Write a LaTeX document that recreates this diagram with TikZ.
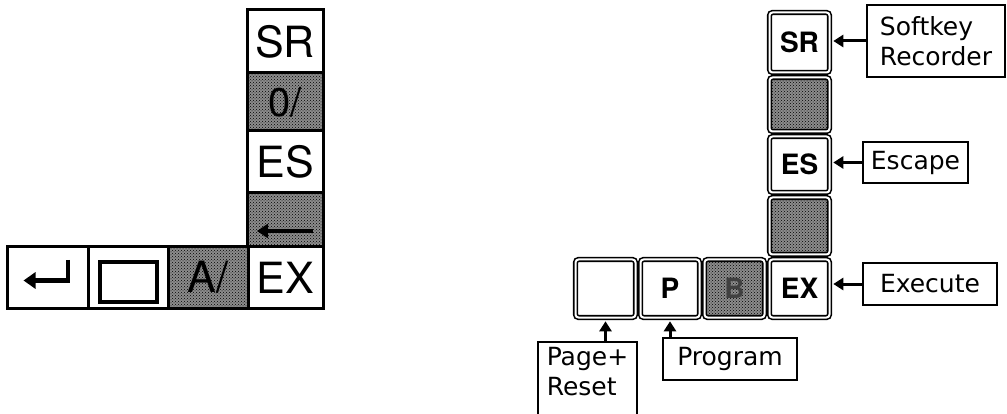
\documentclass[tikz,border=0pt]{standalone}
\usepackage{fontspec}
\newfontfamily\heros{TeX Gyre Heros}
\newfontfamily\dejavu{DejaVu Sans}
\usetikzlibrary{arrows.meta,patterns,calc}
\begin{document}
\begin{tikzpicture}[x=1pt,y=-1pt,
  lkey/.style={draw, line width=3pt, fill=white, inner sep=0pt,
    font=\heros\fontsize{43}{43}\selectfont},
  lshade/.style={preaction={fill=black!45},
    pattern=crosshatch dots, pattern color=black},
  rkey/.style={draw, line width=1.6pt, double, double distance=2pt,
    rounded corners=3pt, fill=white, inner sep=0pt,
    font=\heros\bfseries\fontsize{28}{28}\selectfont},
  rshade/.style={preaction={fill=black!45},
    pattern=crosshatch dots, pattern color=black},
  cbox/.style={draw, line width=1.8pt, inner sep=3pt,
    font=\dejavu\fontsize{25}{30}\selectfont},
  arr/.style={line width=3pt, -{Triangle[length=10pt,width=12pt]}},
  glyph/.style={line width=4pt}]
\clip (0,0) rectangle (1007,414);
\fill[white] (0,0) rectangle (1007,414);

% ---- left keypad ----
\node[lkey, minimum width=76, minimum height=63] (lsr) at (285,41.5) {SR};
\node[lkey, lshade, minimum width=76, minimum height=58] (ls1) at (285,102)
  {\fontsize{40}{40}\selectfont 0/};
\node[lkey, minimum width=76, minimum height=62] (les) at (285,162) {ES};
\node[lkey, lshade, minimum width=76, minimum height=54] (ls2) at (285,220) {};
\node[lkey, minimum width=76, minimum height=61] (lex) at (285,277.5) {EX};
\node[lkey, lshade, minimum width=80, minimum height=61] (lb3) at (208,277.5) {A/};
\node[lkey, minimum width=80, minimum height=61] (lb2) at (128,277.5) {};
\node[lkey, minimum width=81, minimum height=61] (lb1) at (47.5,277.5) {};
% symbols inside left keys
\draw[glyph, -{Triangle[length=11pt,width=14pt]}] ($(ls2.center)+(28,11)$) -- ($(ls2.center)+(-28,11)$);
\draw[glyph, -{Triangle[length=12pt,width=16pt]}] ($(lb1.center)+(20.5,-17.5)$) -- ($(lb1.center)+(20.5,3)$) -- ($(lb1.center)+(-24,3)$);
\draw[glyph] ($(lb2.center)+(-28,-15.5)$) rectangle ($(lb2.center)+(29,24.5)$);

% ---- right keypad ----
\node[rkey, minimum width=60, minimum height=60] (rsr) at (799.5,42.5) {SR};
\node[rkey, rshade, minimum width=60, minimum height=54] (rs1) at (799.5,104.5) {};
\node[rkey, minimum width=60, minimum height=56] (res) at (799.5,164.5) {ES};
\node[rkey, rshade, minimum width=60, minimum height=57] (rs2) at (799.5,226) {};
\node[rkey, minimum width=60, minimum height=58] (rex) at (799.5,288.5) {EX};
\node[rkey, rshade, minimum width=60, minimum height=58] (rb3) at (734.5,288.5) {\color{black!75}B};
\node[rkey, minimum width=59, minimum height=58] (rb2) at (670,288.5) {P};
\node[rkey, minimum width=60, minimum height=58] (rb1) at (605.5,288.5) {};

% ---- callouts ----
\node[cbox, align=left, minimum width=138, minimum height=72] (csr) at (936,41)
  {Softkey\\Recorder};
\node[cbox, minimum width=105, minimum height=41] (ces) at (915.5,162.5) {Escape};
\node[cbox, minimum width=134, minimum height=42] (cex) at (930,284) {Execute};
\node[cbox, minimum width=134, minimum height=42] (cpr) at (730,359) {Program};
\node[cbox, align=left, anchor=north, minimum width=99, inner ysep=5pt] (cpg) at (587.5,341)
  {Page+\\Reset\\\mbox{}};

\draw[arr, shorten >=3pt] (csr.west) -- (csr.west -| rsr.east);
\draw[arr, shorten >=3pt] (ces.west) -- (ces.west -| res.east);
\draw[arr, shorten >=3pt] (cex.west) -- (cex.west -| rex.east);
\draw[arr, shorten >=3pt] (cpg.north -| rb1) -- (rb1.south);
\draw[arr, shorten >=3pt] (cpr.north -| rb2) -- (rb2.south);
\end{tikzpicture}
\end{document}
